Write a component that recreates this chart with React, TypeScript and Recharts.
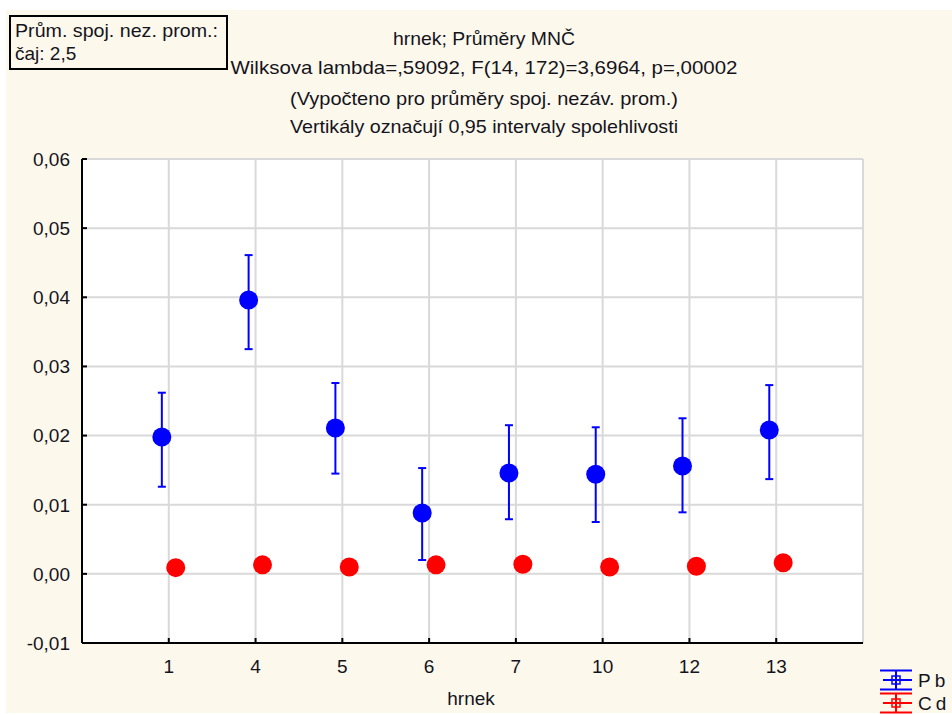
import React from 'react';
import { ScatterChart, Scatter, XAxis, YAxis, CartesianGrid, ErrorBar, Legend } from 'recharts';

// ---- data ----
const categories = ['1', '4', '5', '6', '7', '10', '12', '13'];
const pbMean = [0.0198, 0.0396, 0.0211, 0.0088, 0.0146, 0.0144, 0.0156, 0.0208];
const pbLower = [0.0126, 0.0325, 0.0145, 0.002, 0.0079, 0.0075, 0.0089, 0.0137];
const pbUpper = [0.0262, 0.0461, 0.0276, 0.0153, 0.0215, 0.0212, 0.0225, 0.0273];
const cdMean = [0.0009, 0.0013, 0.001, 0.0013, 0.0014, 0.001, 0.0011, 0.0016];
const cdLower = [0.0005, 0.0009, 0.0006, 0.0009, 0.001, 0.0006, 0.0007, 0.0012];
const cdUpper = [0.0013, 0.0017, 0.0014, 0.0017, 0.0018, 0.0014, 0.0015, 0.002];
const yTicks = [-0.01, 0, 0.01, 0.02, 0.03, 0.04, 0.05, 0.06];
const xTicks = [1, 2, 3, 4, 5, 6, 7, 8];
const seriesNames = ['Pb', 'Cd'];
const seriesColors = ['#0000ff', '#ff0000'];
const titleLines = [
  'hrnek; Průměry MNČ',
  'Wilksova lambda=,59092, F(14, 172)=3,6964, p=,00002',
  '(Vypočteno pro průměry spoj. nezáv. prom.)',
  'Vertikály označují 0,95 intervaly spolehlivosti',
];
const boxLines = ['Prům. spoj. nez. prom.:', 'čaj: 2,5'];
const xTitle = 'hrnek';

// ---- layout / style ----
const FONT = '"Liberation Sans", Arial, sans-serif';
const TEXT = '#14141c';
const CREAM = '#fdf8ec';
const Y_MARGIN = 12;
const X_MARGIN = 17;
const SHIFT = 0.08;

const build = (mean: number[], lo: number[], hi: number[], shift: number) =>
  mean.map((m, i) => ({ x: i + 1 + shift, y: m, ci: [m - lo[i], hi[i] - m], cat: categories[i] }));

const pbData = build(pbMean, pbLower, pbUpper, -SHIFT);
const cdData = build(cdMean, cdLower, cdUpper, SHIFT);

const fmtY = (v: number) => v.toFixed(2).replace('.', ',');

const YTick = (props: any) => {
  const { x, y, payload } = props;
  return (
    <g>
      <text x={x} y={y} dy="0.36em" textAnchor="end" fontFamily={FONT} fontSize={19} fill={TEXT}>
        {fmtY(payload.value)}
      </text>
      <line x1={x + Y_MARGIN} x2={x + Y_MARGIN + 5} y1={y} y2={y} stroke="#000" strokeWidth={2} />
    </g>
  );
};

const XTick = (props: any) => {
  const { x, y, payload } = props;
  return (
    <g>
      <text x={x} y={y} dy="0.71em" textAnchor="middle" fontFamily={FONT} fontSize={19} fill={TEXT}>
        {categories[payload.value - 1]}
      </text>
      <line x1={x} x2={x} y1={y - X_MARGIN} y2={y - X_MARGIN - 5} stroke="#000" strokeWidth={2} />
    </g>
  );
};

const dot = (color: string) => (p: any) => <circle cx={p.cx} cy={p.cy} r={9.5} fill={color} />;

const renderLegend = (props: any) => {
  const payload = [...(props.payload || [])].sort(
    (a: any, b: any) => seriesNames.indexOf(a.value) - seriesNames.indexOf(b.value)
  );
  return (
    <div style={{ fontFamily: FONT }}>
      {payload.map((entry: any, i: number) => {
        const c = entry.color || seriesColors[i];
        return (
          <div key={i} style={{ display: 'flex', alignItems: 'center', height: 23 }}>
            <svg width={38} height={23} style={{ display: 'block' }}>
              <line x1={2} x2={34} y1={1.5} y2={1.5} stroke={c} strokeWidth={2} />
              <line x1={5} x2={34} y1={11} y2={11} stroke={c} strokeWidth={2} />
              <line x1={2} x2={34} y1={20.5} y2={20.5} stroke={c} strokeWidth={2} />
              <line x1={18} x2={18} y1={1.5} y2={20.5} stroke={c} strokeWidth={2} />
              <rect x={14} y={7} width={8} height={8} fill="none" stroke={c} strokeWidth={1.5} />
            </svg>
            <span style={{ fontSize: 19, color: TEXT, letterSpacing: 4, marginLeft: 2, lineHeight: '23px' }}>
              {entry.value}
            </span>
          </div>
        );
      })}
    </div>
  );
};

const titleLayout = [
  { y: 45, w: 182 },
  { y: 74, w: 507 },
  { y: 105, w: 388 },
  { y: 133, w: 388 },
];

export default function App() {
  return (
    <div style={{ position: 'absolute', left: 0, top: 0, width: 952, height: 715, background: '#fff', overflow: 'hidden' }}>
      <div style={{ position: 'absolute', left: 6, top: 10, width: 946, height: 703, background: CREAM }} />
      <div style={{ position: 'absolute', left: 0, top: 0 }}>
        <ScatterChart width={952} height={715} margin={{ top: 159, right: 89, bottom: 42, left: 22 }}>
          <CartesianGrid stroke="#d9d9d9" strokeWidth={2} fill="#ffffff" />
          <XAxis
            dataKey="x"
            type="number"
            domain={[0, 9]}
            ticks={xTicks}
            allowDecimals={false}
            height={30}
            tickSize={0}
            tickMargin={X_MARGIN}
            tickLine={false}
            axisLine={{ stroke: '#000', strokeWidth: 2 }}
            tick={<XTick />}
            interval={0}
          />
          <XAxis
            xAxisId="top"
            orientation="top"
            type="number"
            domain={[0, 9]}
            ticks={xTicks}
            mirror
            height={0}
            tick={false}
            tickSize={5}
            tickLine={{ stroke: '#000', strokeWidth: 2 }}
            axisLine={{ stroke: '#000', strokeWidth: 2 }}
          />
          <YAxis
            dataKey="y"
            type="number"
            domain={[-0.01, 0.06]}
            ticks={yTicks}
            width={60}
            tickSize={0}
            tickMargin={Y_MARGIN}
            tickLine={false}
            axisLine={{ stroke: '#000', strokeWidth: 2 }}
            tick={<YTick />}
            interval={0}
          />
          <YAxis
            yAxisId="right"
            orientation="right"
            type="number"
            domain={[-0.01, 0.06]}
            ticks={yTicks}
            mirror
            width={0}
            tick={false}
            tickSize={5}
            tickLine={{ stroke: '#000', strokeWidth: 2 }}
            axisLine={{ stroke: '#000', strokeWidth: 2 }}
          />
          <Scatter name={seriesNames[0]} data={pbData} fill={seriesColors[0]} shape={dot(seriesColors[0])} isAnimationActive={false}>
            <ErrorBar dataKey="ci" direction="y" width={4} stroke={seriesColors[0]} strokeWidth={2} isAnimationActive={false} />
          </Scatter>
          <Scatter name={seriesNames[1]} data={cdData} fill={seriesColors[1]} shape={dot(seriesColors[1])} isAnimationActive={false}>
            <ErrorBar dataKey="ci" direction="y" width={4} stroke={seriesColors[1]} strokeWidth={2} isAnimationActive={false} />
          </Scatter>
          <Legend
            layout="vertical"
            align="center"
            verticalAlign="middle"
            content={renderLegend}
            wrapperStyle={{ left: 878, top: 669, width: 74, height: 46, right: 'auto', bottom: 'auto' }}
          />
        </ScatterChart>
      </div>
      <svg width={952} height={715} style={{ position: 'absolute', left: 0, top: 0, pointerEvents: 'none' }}>
        {titleLines.map((t, i) => (
          <text
            key={i}
            x={484}
            y={titleLayout[i].y}
            textAnchor="middle"
            fontFamily={FONT}
            fontSize={19}
            fill={TEXT}
            textLength={titleLayout[i].w}
            lengthAdjust="spacingAndGlyphs"
          >
            {t}
          </text>
        ))}
        <rect x={10} y={16} width={217} height={53} fill="none" stroke="#000" strokeWidth={2} />
        <text x={15} y={37} fontFamily={FONT} fontSize={19} fill={TEXT} textLength={203} lengthAdjust="spacingAndGlyphs">
          {boxLines[0]}
        </text>
        <text x={15} y={60} fontFamily={FONT} fontSize={19} fill={TEXT}>
          {boxLines[1]}
        </text>
        <text x={471} y={705} textAnchor="middle" fontFamily={FONT} fontSize={19} fill={TEXT}>
          {xTitle}
        </text>
      </svg>
    </div>
  );
}
